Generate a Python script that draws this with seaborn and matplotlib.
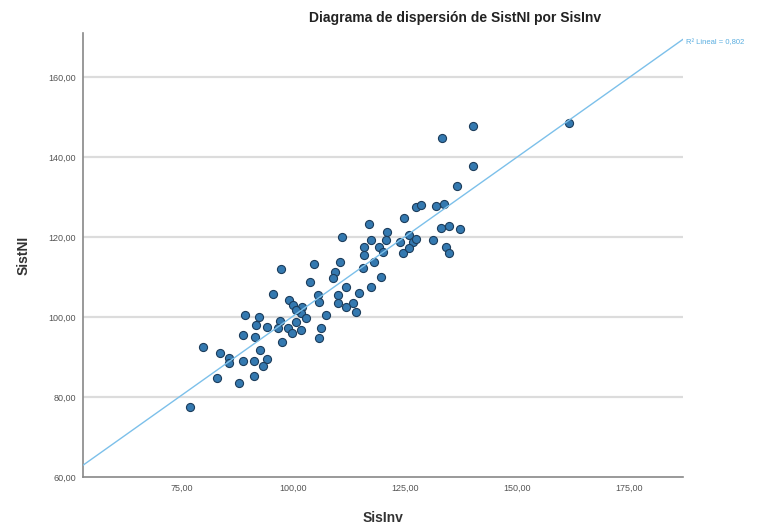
import matplotlib
matplotlib.use("Agg")
import matplotlib.pyplot as plt
import seaborn as sns
import numpy as np
import pandas as pd
from matplotlib.ticker import FixedLocator, FuncFormatter

# ---- data ----
sisinv = [161.6, 140.0, 133.2, 140.2, 136.5, 127.4, 128.5, 131.9, 133.7, 124.8,
          116.8, 133.0, 134.8, 137.1, 131.1, 134.1, 134.7, 125.9, 126.6, 123.7,
          124.4, 125.9, 121.0, 120.7, 117.3, 115.8, 115.8, 119.2, 119.9, 118.1,
          115.5, 119.6, 110.9, 110.3, 109.2, 108.8, 111.8, 109.9, 114.7, 113.2,
          114.0, 117.3, 104.5, 97.3, 103.7, 95.4, 99.1, 99.8, 101.9, 105.4,
          105.8, 110.0, 89.1, 92.4, 91.7, 94.1, 96.9, 98.7, 100.6, 101.7,
          102.8, 99.6, 101.7, 107.3, 106.2, 105.6, 97.4, 88.7, 91.5, 79.8,
          83.7, 85.7, 85.5, 88.8, 91.3, 92.6, 94.1, 93.1, 82.9, 87.9,
          91.3, 76.8, 127.4, 96.5, 100.6, 111.8]
sistni = [148.6, 147.75, 144.7, 137.75, 132.75, 127.6, 128.0, 127.75, 128.25, 124.7,
          123.2, 122.2, 122.75, 121.9, 119.25, 117.6, 115.9, 120.5, 118.8, 118.8,
          115.9, 117.2, 121.3, 119.25, 119.25, 117.6, 115.5, 117.6, 116.3, 113.8,
          112.2, 110.1, 119.9, 113.8, 111.3, 109.7, 107.6, 105.5, 105.9, 103.4,
          101.3, 107.6, 113.25, 111.9, 108.75, 105.7, 104.25, 103.0, 102.5, 105.5,
          103.8, 103.6, 100.5, 100.1, 98.0, 97.6, 99.1, 97.2, 98.8, 100.9,
          99.7, 95.9, 96.75, 100.4, 97.2, 94.7, 93.75, 95.4, 95.0, 92.4,
          91.0, 89.7, 88.6, 89.0, 89.0, 91.85, 89.55, 87.7, 84.75, 83.4,
          85.2, 77.4, 119.4, 97.2, 101.75, 102.6]
x_ticks = [75, 100, 125, 150, 175]
y_ticks = [60, 80, 100, 120, 140, 160]
r2_label = "R\u00b2 Lineal = 0,802"

df = pd.DataFrame({"SisInv": sisinv, "SistNI": sistni})

sns.set_theme(style="white")
plt.rcParams["font.family"] = ["Liberation Sans", "DejaVu Sans"]

fig = plt.figure(figsize=(7.76, 5.30), dpi=100)
ax = fig.add_axes([83 / 776, 1 - 477 / 530, 600 / 776, 444 / 530])

xlim = (53, 187)
ylim = (60, 171)
ax.set_xlim(*xlim)
ax.set_ylim(*ylim)

for yv in y_ticks[1:]:
    ax.axhline(yv, color="#dcdcdc", lw=1.6, zorder=0)

sns.regplot(data=df, x="SisInv", y="SistNI", ax=ax, ci=None, truncate=False,
            scatter_kws=dict(s=34, color="#3479b0", edgecolors="#1c3d5c",
                             linewidths=0.8, alpha=1, zorder=3),
            line_kws=dict(color="#7cc0ea", lw=1.0, zorder=4))

ax.set_xlim(*xlim)
ax.set_ylim(*ylim)
ax.xaxis.set_major_locator(FixedLocator(x_ticks))
ax.yaxis.set_major_locator(FixedLocator(y_ticks))
fmt = FuncFormatter(lambda v, p: f"{v:.2f}".replace(".", ","))
ax.xaxis.set_major_formatter(fmt)
ax.yaxis.set_major_formatter(fmt)
ax.tick_params(axis="both", length=0, labelsize=6.5, colors="#555555", pad=5)

for s in ["top", "right"]:
    ax.spines[s].set_visible(False)
for s in ["left", "bottom"]:
    ax.spines[s].set_color("#888888")
    ax.spines[s].set_linewidth(1.2)

ax.set_xlabel("SisInv", fontsize=10, fontweight="bold", color="#333333", labelpad=13)
ax.set_ylabel("SistNI", fontsize=10, fontweight="bold", color="#333333", labelpad=13)

fig.text(455 / 776, 1 - 18 / 530, "Diagrama de dispersión de SistNI por SisInv",
         ha="center", va="center", fontsize=10, fontweight="bold", color="#222222")
fig.text(686 / 776, 1 - 43 / 530, r2_label, ha="left", va="center",
         fontsize=5.5, color="#5aaee0")

fig.savefig("out.png", dpi=100)
